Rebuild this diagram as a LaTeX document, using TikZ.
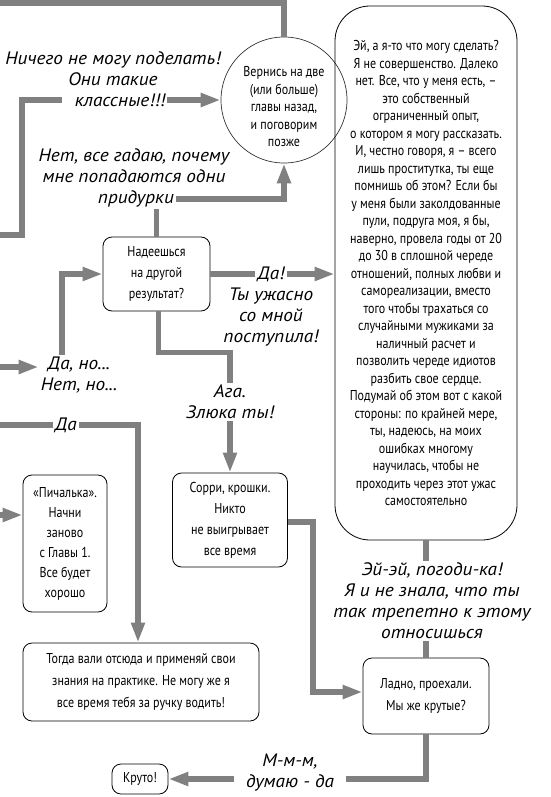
\documentclass[tikz,border=0pt]{standalone}
\usepackage{fontspec}
\setmainfont{PT Sans}
\newfontfamily\boxfont{PT Sans}[FakeStretch=0.84]
\newfontfamily\handfont{PT Sans}[FakeStretch=1.07]
\usetikzlibrary{arrows.meta}
\definecolor{conncol}{HTML}{808080}
\tikzset{
  conn/.style={draw=conncol, line width=5.5pt},
  arr/.style={conn, -{Triangle[length=20pt,width=13pt]}},
  box/.style={draw=black, line width=0.8pt, rounded corners=9pt, align=center,
    font=\boxfont\fontsize{14.3}{21}\selectfont, inner sep=0pt},
  lbl/.style={align=center, font=\handfont\itshape\fontsize{18}{21}\selectfont, inner sep=2pt},
}
\begin{document}
\begin{tikzpicture}[x=1pt,y=-1pt]
\useasboundingbox (0,0) rectangle (550,797);

% nodes
\node[draw=black!80, line width=0.7pt, circle, minimum size=126pt, inner sep=0pt,
  label={[align=center, font=\boxfont\fontsize{14.3}{17.5}\selectfont, yshift=-7pt]center:Вернись на две\\(или больше)\\главы назад,\\и поговорим\\позже}] (C) at (284,100) {};

\node[box, rounded corners=35pt, minimum width=182pt, minimum height=534pt,
  font=\boxfont\fontsize{14.3}{17.5}\selectfont] (B) at (426,273) {Эй, а я-то что могу сделать?\\Я не совершенство. Далеко\\нет. Все, что у меня есть, –\\это собственный\\ограниченный опыт,\\о котором я могу рассказать.\\И, честно говоря, я – всего\\лишь проститутка, ты еще\\помнишь об этом? Если бы\\у меня были заколдованные\\пули, подруга моя, я бы,\\наверно, провела годы от 20\\до 30 в сплошной череде\\отношений, полных любви и\\самореализации, вместо\\того чтобы трахаться со\\случайными мужиками за\\наличный расчет и\\позволить череде идиотов\\разбить свое сердце.\\Подумай об этом вот с какой\\стороны: по крайней мере,\\ты, надеюсь, на моих\\ошибках многому\\научилась, чтобы не\\проходить через этот ужас\\самостоятельно};

\node[box, minimum width=107pt, minimum height=74pt] (N) at (156.5,274) {Надеешься\\на другой\\результат?};
\node[box, minimum width=115pt, minimum height=94pt] (S) at (230,520) {Сорри, крошки.\\Никто\\не выигрывает\\все время};
\node[box, minimum width=84pt, minimum height=137pt, font=\boxfont\fontsize{14.3}{20}\selectfont] (P) at (65,543.5) {«Пичалька».\\Начни\\заново\\с Главы 1.\\Все будет\\хорошо};
\node[box, minimum width=236pt, minimum height=78pt, font=\boxfont\fontsize{14.3}{22}\selectfont] (T) at (141,682) {Тогда вали отсюда и применяй свои\\знания на практике. Не могу же я\\все время тебя за ручку водить!};
\node[box, minimum width=126pt, minimum height=76pt, font=\boxfont\fontsize{14.3}{22}\selectfont] (L) at (426,696) {Ладно, проехали.\\Мы же крутые?};
\node[box, minimum width=56pt, minimum height=30pt] (K) at (140,779) {Круто!};

% labels
\node[lbl] (lA1) at (113,69) {Ничего не могу поделать!\\Они такие};
\node[lbl] (lA2) at (120,100) {классные!!!};
\node[lbl] (lB1) at (134,166) {Нет, все гадаю, почему\\мне попадаются одни};
\node[lbl] (lB2) at (136,199) {придурки};
\node[lbl] (lD1) at (271,274) {Да!};
\node[lbl] (lD1b) at (271,317) {Ты ужасно\\со мной\\поступила!};
\node[lbl] (lDN) at (79,375) {Да, но...\\Нет, но...};
\node[lbl] (lAga) at (230,402) {Ага.\\Злюка ты!};
\node[lbl] (lDa2) at (66,425) {Да};
\node[lbl] (lEy) at (432,601) {Эй-эй, погоди-ка!\\Я и не знала, что ты\\так трепетно к этому\\относишься};
\node[lbl, inner xsep=12pt, inner ysep=0pt] (lMm) at (290,773) {М-м-м,\\думаю - да};

% entry points
\coordinate (in1) at (0,3);
\coordinate (in2) at (0,235);
\coordinate (in3) at (0,367);
\coordinate (in4) at (0,425);
\coordinate (in5) at (0,515);

% connectors
\draw[conn] (in1) -| (C.north);
\draw[conn] (in2) -- (22,235) |- ([xshift=-11pt]lA2.west);
\draw[arr] (lA2.east) -- (C.west);
\draw[conn] (N.north) -- (N.north |- lB2.south);
\draw[arr] (lB2.east) -| (C.south);
\draw[conn] (N.east) -- (lD1.west);
\draw[arr] (lD1.east) -- (lD1.east -| B.west);
\draw[arr] (in3) -- (in3 -| lDN.west);
\draw[arr] ([xshift=-17pt]lDN.north) |- (N.west);
\draw[conn] ([xshift=2pt]N.south) -- ++(0,41) -| (lAga.north);
\draw[arr] (lAga.south) -- (S.north);
\draw[conn] (in4) -- (lDa2.west);
\draw[arr] (lDa2.east) -| ([xshift=-3pt]T.north);
\draw[arr] (in5) -- (in5 -| P.west);
\draw[arr] ([yshift=-2pt]S.east) -- ++(25,0) |- ([yshift=4pt]L.west);
\draw[conn] (B.south) -- (B.south |- lEy.north);
\draw[conn] (lEy.south -| L.north) -- (L.north);
\draw[conn] (L.south) |- ([yshift=-6pt]lMm.east);
\draw[arr] ([yshift=-6pt]lMm.west) -- (K.east);
\end{tikzpicture}
\end{document}
